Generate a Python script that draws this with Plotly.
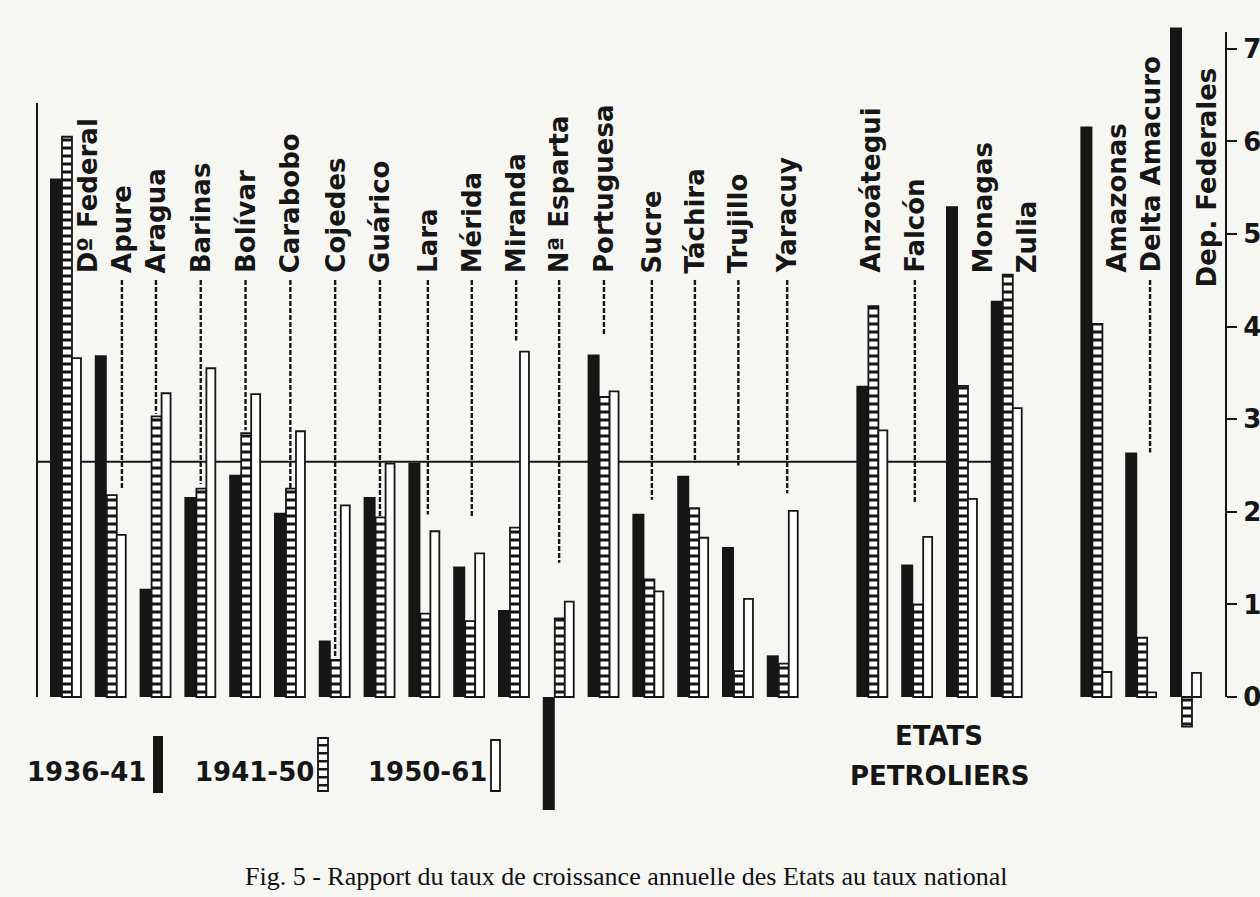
import plotly.graph_objects as go

# ---------------- data ----------------
states = ["Dº Federal", "Apure", "Aragua", "Barinas", "Bolívar", "Carabobo", "Cojedes",
          "Guárico", "Lara", "Mérida", "Miranda", "Nª Esparta", "Portuguesa", "Sucre",
          "Táchira", "Trujillo", "Yaracuy"]
petroliers = ["Anzoátegui", "Falcón", "Monagas", "Zulia"]
territoires = ["Amazonas", "Delta Amacuro", "Dep. Federales"]

r_1936_41 = [5.60, 3.69, 1.17, 2.16, 2.40, 1.99, 0.61, 2.16, 2.53, 1.41, 0.94, -1.22, 3.70,
             1.98, 2.39, 1.62, 0.45,
             3.36, 1.43, 5.30, 4.28,
             6.16, 2.64, 7.23]
r_1941_50 = [6.05, 2.18, 3.03, 2.25, 2.85, 2.25, 0.40, 1.94, 0.90, 0.82, 1.83, 0.85, 3.24,
             1.27, 2.04, 0.28, 0.36,
             4.22, 1.00, 3.36, 4.56,
             4.03, 0.64, -0.32]
r_1950_61 = [3.66, 1.75, 3.28, 3.55, 3.27, 2.87, 2.07, 2.52, 1.79, 1.55, 3.73, 1.03, 3.30,
             1.14, 1.72, 1.06, 2.01,
             2.88, 1.73, 2.14, 3.12,
             0.27, 0.05, 0.26]
taux_national = 2.54
y_ticks = [0, 1, 2, 3, 4, 5, 6, 7]
periods = ["1936-41", "1941-50", "1950-61"]

# leader (dashed) lines: label -> value where the dashed line stops
leader_end = {"Apure": 2.25, "Aragua": 3.06, "Barinas": 2.30, "Bolívar": 2.88, "Carabobo": 2.25,
              "Cojedes": 0.43, "Guárico": 1.95, "Lara": 1.97, "Mérida": 1.95, "Miranda": 3.85,
              "Nª Esparta": 1.45, "Portuguesa": 3.90, "Sucre": 2.13, "Táchira": 2.53,
              "Trujillo": 2.50, "Yaracuy": 2.20, "Falcón": 2.09, "Delta Amacuro": 2.64}

# ---------------- layout helpers ----------------
W, H = 1260, 897
SLOT, X0PX, ZEROPX, UNIT = 44.8, 65.0, 697.0, 92.6
def X(px):
    return (px - X0PX) / SLOT
def Y(py):
    return (ZEROPX - py) / UNIT

groups = [states, petroliers, territoires]
names, xpos = [], []
pos = 0
for g in groups:
    for n in g:
        names.append(n)
        xpos.append(pos)
        pos += 1
    pos += 1

# label centre shifts (in slots) relative to group centre, and bottoms (px)
label_shift = {"Dº Federal": 0.51, "Apure": 0.27, "Lara": 0.1, "Mérida": 0.08, "Miranda": 0.07,
               "Sucre": 0.1, "Táchira": 0.06, "Yaracuy": 0.12, "Anzoátegui": -0.03,
               "Falcón": -0.03, "Monagas": 0.49, "Zulia": 0.47, "Amazonas": 0.46,
               "Delta Amacuro": 0.22, "Dep. Federales": 0.5}
label_bottom_px = {"Dep. Federales": 288}

INK = "#161616"
BG = "#f6f6f3"

fig = go.Figure()
fig.add_trace(go.Bar(x=xpos, y=r_1936_41, name=periods[0], width=0.268, offset=-0.335,
                     marker=dict(color=INK, line=dict(width=0))))
fig.add_trace(go.Bar(x=xpos, y=r_1941_50, name=periods[1], width=0.223, offset=-0.067,
                     marker=dict(color="white", line=dict(color=INK, width=1.8),
                                 pattern=dict(shape="-", fgcolor=INK, bgcolor="white",
                                              size=8, solidity=0.38))))
fig.add_trace(go.Bar(x=xpos, y=r_1950_61, name=periods[2], width=0.2, offset=0.156,
                     marker=dict(color="white", line=dict(color=INK, width=1.8))))

shapes = []
# national rate line
shapes.append(dict(type="line", xref="x", yref="y", x0=X(25), x1=X(992),
                   y0=taux_national, y1=taux_national, line=dict(color=INK, width=2),
                   layer="below"))
# axis lines
shapes.append(dict(type="line", xref="paper", yref="y", x0=0, x1=0, y0=0, y1=Y(103),
                   line=dict(color=INK, width=2)))
shapes.append(dict(type="line", xref="paper", yref="y", x0=1, x1=1, y0=0, y1=Y(32),
                   line=dict(color=INK, width=2)))

annotations = []
lab_font = dict(family="DejaVu Sans", size=26, color=INK, weight="bold")
for n, xp in zip(names, xpos):
    lx = xp + label_shift.get(n, 0.03)
    lb = Y(label_bottom_px.get(n, 274))
    annotations.append(dict(x=lx, y=lb, xref="x", yref="y", text=n, textangle=-90,
                            showarrow=False, xanchor="center", yanchor="bottom",
                            font=lab_font, borderpad=0))
    if n in leader_end:
        shapes.append(dict(type="line", xref="x", yref="y", x0=lx, x1=lx,
                           y0=Y(280), y1=leader_end[n],
                           line=dict(color=INK, width=2.4, dash="5px,2px")))

# bottom legend
leg_text_right = [148, 316, 489]
for t, xr in zip(periods, leg_text_right):
    annotations.append(dict(x=X(xr), y=Y(772), xref="x", yref="y", text=t, showarrow=False,
                            xanchor="right", yanchor="middle", font=lab_font))
# keys
shapes.append(dict(type="rect", xref="x", yref="y", x0=X(153), x1=X(163), y0=Y(793), y1=Y(736),
                   fillcolor=INK, line=dict(width=0)))
shapes.append(dict(type="rect", xref="x", yref="y", x0=X(318), x1=X(328), y0=Y(791), y1=Y(738),
                   fillcolor="white", line=dict(color=INK, width=1.8)))
py = 744
while py < 790:
    shapes.append(dict(type="rect", xref="x", yref="y", x0=X(318), x1=X(328), y0=Y(py + 2.5),
                       y1=Y(py), fillcolor=INK, line=dict(width=0)))
    py += 8
shapes.append(dict(type="rect", xref="x", yref="y", x0=X(491), x1=X(500), y0=Y(791), y1=Y(740),
                   fillcolor="white", line=dict(color=INK, width=1.8)))

annotations.append(dict(x=X(939), y=Y(736), xref="x", yref="y", text="ETATS", showarrow=False,
                        font=lab_font, xanchor="center", yanchor="middle"))
annotations.append(dict(x=X(939), y=Y(776), xref="x", yref="y", text="PETROLIERS",
                        showarrow=False, font=lab_font, xanchor="center", yanchor="middle"))
annotations.append(dict(x=X(626), y=Y(876), xref="x", yref="y",
                        text="Fig. 5 - Rapport du taux de croissance annuelle des Etats au taux national",
                        showarrow=False, xanchor="center", yanchor="middle",
                        font=dict(family="Liberation Serif", size=26, color="#111111")))

fig.update_layout(
    width=W, height=H, template="none", showlegend=False, barmode="overlay",
    margin=dict(l=37, r=34, t=0, b=0, pad=0),
    paper_bgcolor=BG, plot_bgcolor=BG,
    xaxis=dict(range=[X(37), X(1226)], visible=False, fixedrange=True),
    yaxis=dict(range=[Y(H), Y(0)], side="right", showgrid=False, zeroline=False,
               showline=False, tickvals=y_ticks, ticktext=[str(v) for v in y_ticks],
               ticks="outside", ticklen=10, tickwidth=2, tickcolor=INK,
               tickfont=dict(family="DejaVu Sans", size=26, color=INK, weight="bold"),
               ticklabelstandoff=1, automargin=False),
    yaxis2=dict(range=[Y(H), Y(0)], overlaying="y", side="left", showgrid=False,
                zeroline=False, showline=False, tickvals=[0, taux_national, Y(223)],
                ticks="outside", ticklen=10, tickwidth=2, tickcolor=INK,
                showticklabels=False, automargin=False),
    shapes=shapes, annotations=annotations,
)

fig.write_html("out.html", config={"displayModeBar": False},
               post_script="document.body.style.margin='0';document.body.style.overflow='hidden';")
